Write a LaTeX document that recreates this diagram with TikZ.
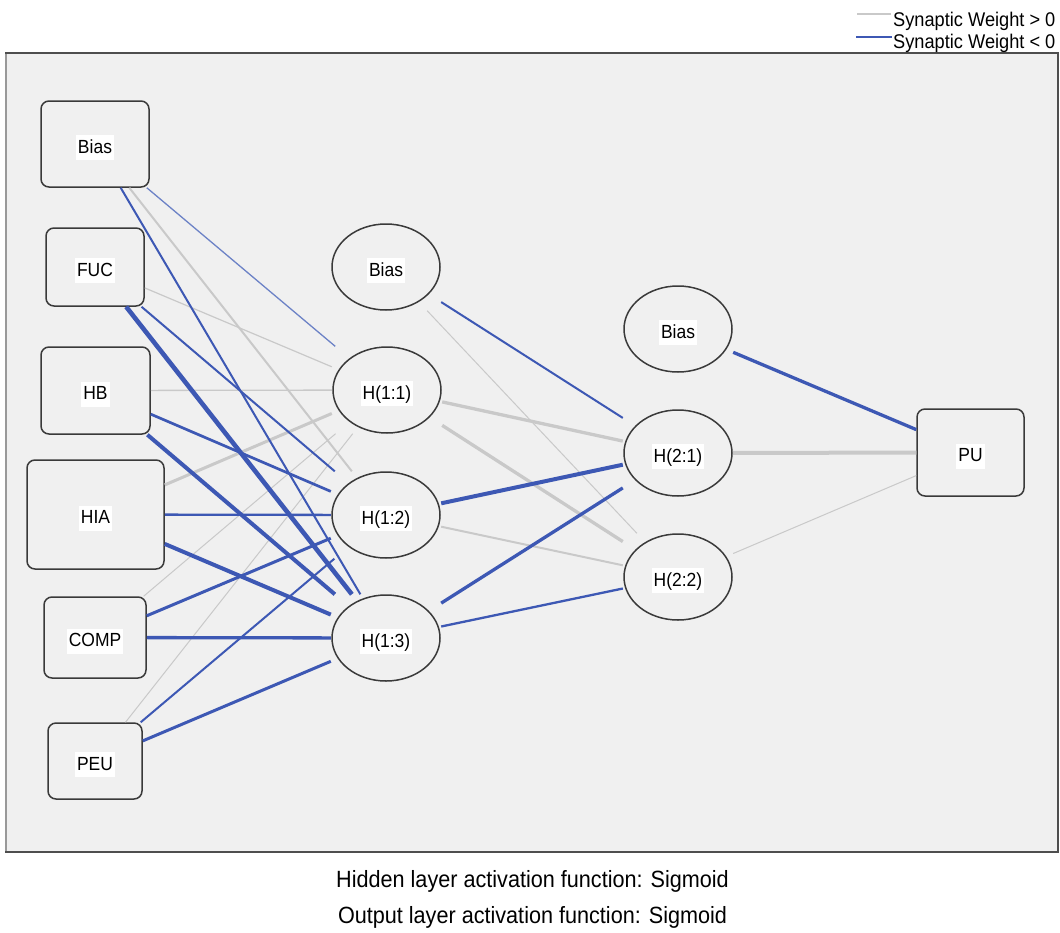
\documentclass[tikz,border=0pt]{standalone}
\usepackage{fontspec}
\setmainfont{Liberation Sans}[FakeStretch=0.92]
\usetikzlibrary{shapes.geometric}

\definecolor{panelbg}{HTML}{F0F0F0}
\definecolor{nodeline}{HTML}{3A3A3A}
\definecolor{wpos}{HTML}{C9C9C9}
\definecolor{wneg}{HTML}{3D58B4}
\definecolor{wnegl}{HTML}{6C82C6}

% label on a white patch, baseline set a little below the node centre
\newcommand\wlab[1]{\raisebox{-9.3pt}[0pt][0pt]{\setlength{\fboxsep}{2pt}\colorbox{white}{\rule[-5pt]{0pt}{21pt}#1}}}

\begin{document}
\begin{tikzpicture}[x=1pt,y=-1pt,
  inbox/.style={rectangle, rounded corners=8pt, draw=nodeline, line width=1.5pt,
                fill=panelbg, inner sep=0pt, font=\fontsize{19}{23}\selectfont},
  hidnode/.style={rectangle, inner sep=0pt, minimum width=110pt, minimum height=87pt,
                font=\fontsize{19}{23}\selectfont},
  ringline/.style={draw=nodeline, line width=1.5pt, fill=panelbg},
  gline/.style={draw=wpos, line width=#1},
  bline/.style={draw=wneg, line width=#1},
  legtext/.style={anchor=base west, inner sep=0pt, font=\fontsize{19.8}{23}\selectfont},
  foottext/.style={anchor=base, inner sep=0pt, font=\fontsize{23.5}{27}\selectfont}]

\useasboundingbox (0,0) rectangle (1060,932);
\fill[white] (0,0) rectangle (1060,932);

% chart panel
\fill[panelbg] (6,53) rectangle (1058,852);
\draw[draw=gray!80, line width=1.2pt] (6,53) -- (6,852);
\draw[draw=nodeline!90, line width=2pt] (5,53) -- (1058,53) -- (1058,852) -- (5,852);

% legend
\coordinate (lga) at (857,14);
\coordinate (lgb) at (891,14);
\coordinate (lgc) at (856,37);
\coordinate (lgd) at (892,37);
\draw[gline=1.3pt] (lga) -- (lgb);
\draw[bline=2pt] (lgc) -- (lgd);
\node[legtext] (lgt1) at (893,26.5) {Synaptic Weight > 0};
\node[legtext] (lgt2) at (893,48) {Synaptic Weight < 0};

% input layer
\node[inbox, minimum width=108pt, minimum height=86pt] (i0) at (95,144) {\wlab{Bias}};
\node[inbox, minimum width=98pt, minimum height=78pt] (i1) at (95,267) {\wlab{FUC}};
\node[inbox, minimum width=109pt, minimum height=87pt] (i2) at (95.5,390.5) {\wlab{HB}};
\node[inbox, minimum width=137pt, minimum height=109pt] (i3) at (95.5,514.5) {\wlab{HIA}};
\node[inbox, minimum width=102pt, minimum height=81pt] (i4) at (95,637.5) {\wlab{COMP}};
\node[inbox, minimum width=94pt, minimum height=76pt] (i5) at (95,761) {\wlab{PEU}};

% hidden layers: ellipses first, then the labelled nodes on top
\foreach \cx/\cy in {386/267, 387/390, 386/515, 386/638, 678/329, 678/453, 678/577}
  \draw[ringline] (\cx,\cy) ellipse [x radius=54pt, y radius=43pt];

\node[hidnode] (b1)  at (386,267) {\wlab{Bias}};
\node[hidnode] (h11) at (387,390) {\wlab{H(1:1)}};
\node[hidnode] (h12) at (386,515) {\wlab{H(1:2)}};
\node[hidnode] (h13) at (386,638) {\wlab{H(1:3)}};
\node[hidnode] (b2)  at (678,329) {\wlab{Bias}};
\node[hidnode] (h21) at (678,453) {\wlab{H(2:1)}};
\node[hidnode] (h22) at (678,577) {\wlab{H(2:2)}};

% output layer
\node[inbox, minimum width=107pt, minimum height=87pt] (o) at (970.5,452.5) {\wlab{PU}};

% positive weights
\draw[gline=2pt]   (i0) -- (h12);
\draw[gline=1.2pt] (i1) -- (h11);
\draw[gline=1.3pt] (i2) -- (h11);
\draw[gline=3pt]   (i3) -- (h11);
\draw[gline=1pt]   (i4) -- (h11);
\draw[gline=1pt]   (i5) -- (h11);
\draw[gline=1pt]   (b1) -- (h22);
\draw[gline=3.3pt] (h11) -- (h21);
\draw[gline=3.3pt] (h11) -- (h22);
\draw[gline=2pt]   (h12) -- (h22);
\draw[gline=4pt]   (h21) -- (o);
\draw[gline=1pt]   (h22) -- (o);

% negative weights
\draw[draw=wnegl, line width=1.3pt] (i0) -- (h11);
\draw[bline=2pt]   (i0) -- (h13);
\draw[bline=2pt]   (i1) -- (h12);
\draw[bline=4.6pt] (i1) -- (h13);
\draw[bline=2.7pt] (i2) -- (h12);
\draw[bline=4pt]   (i2) -- (h13);
\draw[bline=2.3pt] (i3) -- (h12);
\draw[bline=4pt]   (i3) -- (h13);
\draw[bline=3pt]   (i4) -- (h12);
\draw[bline=3.3pt] (i4) -- (h13);
\draw[bline=2pt]   (i5) -- (h12);
\draw[bline=3pt]   (i5) -- (h13);
\draw[bline=2pt]   (b1) -- (h21);
\draw[bline=4pt]   (h12) -- (h21);
\draw[bline=3.3pt] (h13) -- (h21);
\draw[bline=2.3pt] (h13) -- (h22);
\draw[bline=3.3pt] (b2) -- (o);

% activation functions
\node[foottext] (f1) at (532.5,887) {Hidden layer activation function: Sigmoid};
\node[foottext] (f2) at (532.5,923) {Output layer activation function: Sigmoid};
\end{tikzpicture}
\end{document}
